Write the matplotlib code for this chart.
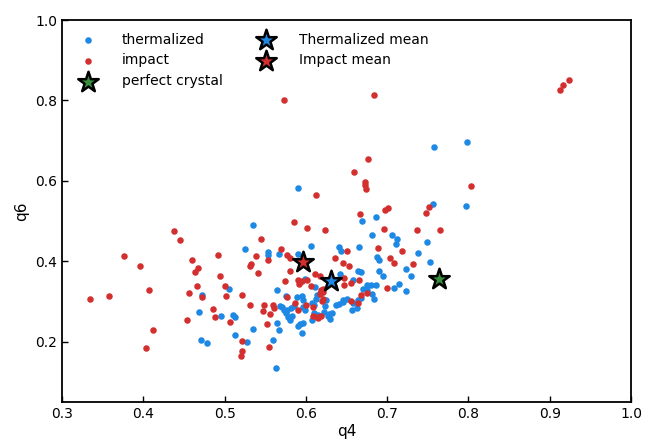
import matplotlib
matplotlib.use("Agg")
import matplotlib.pyplot as plt

# thermalized samples (q4, q6)
therm_q4 = [0.5353, 0.5255, 0.5054, 0.4719, 0.4682, 0.4956, 0.5107, 0.5132, 0.5346, 0.5125,
            0.5272, 0.4714, 0.4784, 0.6687, 0.6859, 0.7568, 0.6814, 0.7060, 0.7127, 0.7496,
            0.6067, 0.5534, 0.5538, 0.5670, 0.5903, 0.6411, 0.6432, 0.6654, 0.7109, 0.7383,
            0.6871, 0.6902, 0.7531, 0.6900, 0.6945, 0.7238, 0.7293, 0.6638, 0.6678, 0.6426,
            0.6576, 0.6755, 0.6804, 0.6859, 0.6699, 0.6752, 0.7142, 0.7084, 0.7229, 0.6810,
            0.6838, 0.6678, 0.6584, 0.6625, 0.6564, 0.7576, 0.7982, 0.7974, 0.5909, 0.5989,
            0.6116, 0.5649, 0.5676, 0.5707, 0.5735, 0.5764, 0.5752, 0.5777, 0.5801, 0.5830,
            0.5817, 0.5854, 0.5887, 0.5956, 0.5968, 0.6076, 0.6104, 0.6121, 0.6133, 0.6248,
            0.6235, 0.6371, 0.6404, 0.6461, 0.5989, 0.5968, 0.6104, 0.6153, 0.6223, 0.6072,
            0.6288, 0.6318, 0.6276, 0.6297, 0.5928, 0.5968, 0.5907, 0.5956, 0.5641, 0.5670,
            0.5596, 0.5630, 0.6453, 0.6502, 0.6638, 0.6168, 0.5752]
therm_q6 = [0.4899, 0.4310, 0.3317, 0.3160, 0.2728, 0.2646, 0.2663, 0.2604, 0.2315, 0.2156,
            0.2000, 0.2050, 0.1958, 0.4994, 0.5098, 0.5429, 0.4651, 0.4658, 0.4554, 0.4484,
            0.4385, 0.4228, 0.4154, 0.4169, 0.4179, 0.4353, 0.4248, 0.4343, 0.4417, 0.4211,
            0.4104, 0.4037, 0.3988, 0.3764, 0.3640, 0.3796, 0.3632, 0.3756, 0.3727, 0.3682,
            0.3540, 0.3416, 0.3416, 0.3416, 0.3309, 0.3292, 0.3441, 0.3324, 0.3260, 0.3192,
            0.3061, 0.3086, 0.2961, 0.2837, 0.2795, 0.6845, 0.6964, 0.5384, 0.5814, 0.3565,
            0.3349, 0.3287, 0.2877, 0.2852, 0.2778, 0.2778, 0.2713, 0.2604, 0.2529, 0.2628,
            0.2837, 0.2877, 0.3110, 0.3125, 0.3026, 0.2961, 0.2902, 0.3068, 0.3168, 0.3026,
            0.2877, 0.2912, 0.2944, 0.2976, 0.2795, 0.2862, 0.2713, 0.2671, 0.2728, 0.2546,
            0.2696, 0.2713, 0.2629, 0.2571, 0.2447, 0.2464, 0.2380, 0.2223, 0.2464, 0.2298,
            0.2050, 0.1336, 0.3043, 0.3061, 0.3043, 0.3217, 0.3125]

# impact samples (q4, q6)
impact_q4 = [0.4382, 0.4452, 0.3766, 0.3956, 0.4074, 0.3341, 0.3578, 0.4123, 0.4033, 0.4599,
             0.4632, 0.4677, 0.4919, 0.4947, 0.4657, 0.4562, 0.4726, 0.5002, 0.5018, 0.4858,
             0.4882, 0.4541, 0.5067, 0.5218, 0.5316, 0.5387, 0.5321, 0.5313, 0.5411, 0.5452,
             0.5214, 0.5211, 0.5202, 0.5854, 0.6010, 0.6232, 0.6666, 0.6974, 0.7007, 0.7474,
             0.7515, 0.6961, 0.7364, 0.7654, 0.5694, 0.5538, 0.5764, 0.5801, 0.6502, 0.6884,
             0.7183, 0.7031, 0.7084, 0.7318, 0.6358, 0.6453, 0.6531, 0.5809, 0.6116, 0.6174,
             0.6469, 0.5747, 0.5900, 0.5928, 0.5956, 0.5916, 0.6018, 0.6060, 0.6183, 0.6211,
             0.6473, 0.6650, 0.6559, 0.6998, 0.6678, 0.6758, 0.6555, 0.6645, 0.5764, 0.5863,
             0.6002, 0.6174, 0.6215, 0.6195, 0.6215, 0.6091, 0.5481, 0.5473, 0.5592, 0.5612,
             0.5562, 0.5900, 0.6091, 0.6133, 0.6186, 0.6153, 0.5522, 0.5543, 0.5727, 0.6835,
             0.9123, 0.9167, 0.9233, 0.6764, 0.6592, 0.6731, 0.6731, 0.6743, 0.6128, 0.8035]
impact_q6 = [0.4765, 0.4517, 0.4137, 0.3881, 0.3292, 0.3068, 0.3135, 0.2291, 0.1833, 0.4020,
             0.3739, 0.3831, 0.4154, 0.3640, 0.3374, 0.3217, 0.3100, 0.3384, 0.3125, 0.2812,
             0.2621, 0.2546, 0.2489, 0.3160, 0.2902, 0.4119, 0.3938, 0.3871, 0.3714, 0.4542,
             0.2017, 0.1776, 0.1652, 0.4974, 0.4815, 0.4775, 0.5173, 0.5272, 0.5329, 0.5197,
             0.5361, 0.4800, 0.4775, 0.4775, 0.4310, 0.4030, 0.4144, 0.4087, 0.4243, 0.4335,
             0.4243, 0.4079, 0.3955, 0.3920, 0.4069, 0.3963, 0.3871, 0.3751, 0.3672, 0.3640,
             0.3573, 0.3498, 0.3540, 0.3473, 0.3508, 0.3441, 0.3540, 0.3384, 0.3292, 0.3309,
             0.3409, 0.3540, 0.3453, 0.3324, 0.3150, 0.3200, 0.3001, 0.2961, 0.3110, 0.2961,
             0.2912, 0.3192, 0.3242, 0.3001, 0.3061, 0.2862, 0.2919, 0.2770, 0.2912, 0.2837,
             0.2678, 0.2778, 0.2646, 0.2614, 0.2629, 0.2579, 0.2447, 0.1858, 0.8012, 0.8144,
             0.8253, 0.8393, 0.8502, 0.6554, 0.6216, 0.5975, 0.5901, 0.5801, 0.5645, 0.5876]

crystal = (0.7638, 0.3558)
therm_mean = (0.6313, 0.3508)
impact_mean = (0.5969, 0.3970)

BLUE = "#1E88E5"
RED = "#D32F2F"
GREEN = "#388E3C"

fig = plt.figure(figsize=(6.45, 4.43), dpi=100)
ax = fig.add_axes([62/645, 1-402/443, 569/645, 382/443])

ax.scatter(therm_q4, therm_q6, s=22, c=BLUE, linewidths=0, label="thermalized", zorder=2)
ax.scatter(impact_q4, impact_q6, s=22, c=RED, linewidths=0, label="impact", zorder=2)
ax.scatter([crystal[0]], [crystal[1]], marker="*", s=240, c=GREEN, edgecolors="black",
           linewidths=1.8, label="perfect crystal", zorder=3)
ax.scatter([therm_mean[0]], [therm_mean[1]], marker="*", s=240, c=BLUE, edgecolors="black",
           linewidths=1.8, label="Thermalized mean", zorder=3)
ax.scatter([impact_mean[0]], [impact_mean[1]], marker="*", s=240, c=RED, edgecolors="black",
           linewidths=1.8, label="Impact mean", zorder=3)

ax.set_xlim(0.3, 1.0)
ax.set_ylim(0.05, 1.0)
ax.set_xticks([0.3, 0.4, 0.5, 0.6, 0.7, 0.8, 0.9, 1.0])
ax.set_yticks([0.2, 0.4, 0.6, 0.8, 1.0])
ax.tick_params(direction="in", labelsize=10, length=4, width=1)
for sp in ax.spines.values():
    sp.set_linewidth(1.3)
ax.set_xlabel("q4", fontsize=11, labelpad=2)
ax.set_ylabel("q6", fontsize=11, labelpad=4)

ax.legend(loc="upper left", ncol=2, frameon=False, fontsize=10, columnspacing=2.1,
          handletextpad=1.4, borderaxespad=0.5)

fig.savefig("out.png", dpi=100)
